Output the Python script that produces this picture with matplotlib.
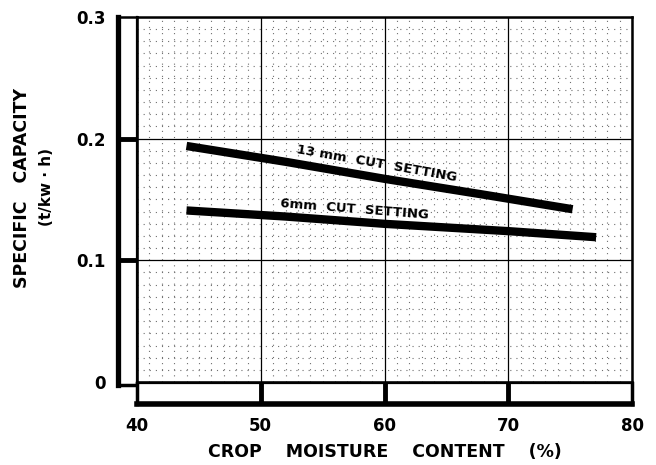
import numpy as np
import matplotlib
matplotlib.use("Agg")
import matplotlib.pyplot as plt
from matplotlib.ticker import MultipleLocator

plt.rcParams['font.family'] = ['DejaVu Sans']
plt.rcParams['font.weight'] = 'bold'

# values
moisture_13mm = [44.0, 52.0, 60.0, 68.0, 75.2]
capacity_13mm = [0.194, 0.181, 0.167, 0.154, 0.142]

moisture_6mm = [44.0, 52.0, 60.0, 70.0, 77.1]
capacity_6mm = [0.141, 0.136, 0.130, 0.124, 0.119]

x_ticks = [40, 50, 60, 70, 80]
x_ticklabels = ['40', '50', '60', '70', '80']
y_ticks = [0, 0.1, 0.2, 0.3]
y_ticklabels = ['0', '0.1', '0.2', '0.3']

fig = plt.figure(figsize=(6.56, 4.65), dpi=100)

# main plotting area (px: left 137, right 632, top 17, bottom 382)
ax = fig.add_axes([137/656, 83/465, 495/656, 365/465])
ax.set_xlim(40, 80)
ax.set_ylim(0, 0.3)

# fine dotted grid and solid major grid
ax.xaxis.set_major_locator(MultipleLocator(10))
ax.yaxis.set_major_locator(MultipleLocator(0.1))
ax.xaxis.set_minor_locator(MultipleLocator(1))
ax.yaxis.set_minor_locator(MultipleLocator(0.01))
ax.grid(which='minor', color='#707070', linestyle=(0, (1, 4.5)), linewidth=0.8)
ax.grid(which='major', color='black', linestyle='-', linewidth=0.9)
ax.tick_params(which='both', length=0, labelbottom=False, labelleft=False)
for s in ax.spines.values():
    s.set_linewidth(1.8)
ax.set_axisbelow(True)

ax.plot(moisture_13mm, capacity_13mm, color='black', linewidth=6, solid_capstyle='butt')
ax.plot(moisture_6mm, capacity_6mm, color='black', linewidth=6, solid_capstyle='butt')

ax.text(59.4, 0.1795, '13 mm  CUT  SETTING', fontsize=9.5, fontweight='bold',
        rotation=-10, ha='center', va='center')
ax.text(57.6, 0.1418, '6mm  CUT  SETTING', fontsize=9.5, fontweight='bold',
        rotation=-4.5, ha='center', va='center')

# left strip with dividers at the major ticks
axl = fig.add_axes([118/656, 80/465, 19/656, 368/465])
axl.set_xlim(0, 1)
axl.set_ylim(-0.3 * 3 / 365, 0.3)
axl.set_xticks([])
axl.set_yticks(y_ticks)
axl.set_yticklabels(y_ticklabels, fontsize=12, fontweight='bold')
axl.tick_params(axis='y', length=0, pad=9)
for yv in y_ticks[1:3]:
    axl.axhline(yv, color='black', linewidth=3.5)
axl.spines['left'].set_linewidth(3.8)
axl.spines['right'].set_linewidth(1.6)
axl.spines['top'].set_linewidth(1.8)
axl.spines['bottom'].set_linewidth(2.5)

# bottom strip with dividers at the major ticks
axb = fig.add_axes([137/656, 61/465, 495/656, 21/465])
axb.set_xlim(40, 80)
axb.set_ylim(0, 1)
axb.set_yticks([])
axb.set_xticks(x_ticks)
axb.set_xticklabels(x_ticklabels, fontsize=12, fontweight='bold')
axb.tick_params(axis='x', length=0, pad=9)
for xv in x_ticks[1:4]:
    axb.axvline(xv, color='black', linewidth=3.5)
axb.spines['bottom'].set_linewidth(4)
axb.spines['top'].set_linewidth(1.6)
axb.spines['left'].set_linewidth(2.5)
axb.spines['right'].set_linewidth(2.5)

axb.set_xlabel('CROP    MOISTURE    CONTENT    (%)', fontsize=12.5, fontweight='bold', labelpad=6)

fig.text(22/656, 1 - 188/465, 'SPECIFIC   CAPACITY', rotation=90, fontsize=12.5,
         fontweight='bold', ha='center', va='center')
fig.text(47/656, 1 - 187/465, '(t/kw · h)', rotation=90, fontsize=11,
         fontweight='bold', ha='center', va='center')

fig.savefig('out.png', dpi=100)
